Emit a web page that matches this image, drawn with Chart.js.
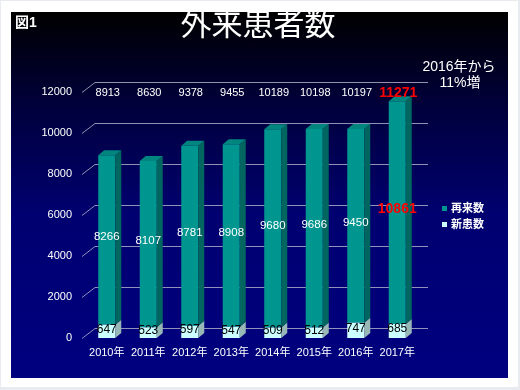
<!DOCTYPE html>
<html>
<head>
<meta charset="utf-8">
<script src="https://cdn.jsdelivr.net/npm/chart.js@4"></script>
<style>
body { margin: 0; background: #e8ecf0; }
#waku { position: absolute; left: 1px; top: 1px; width: 517px; height: 386px; background: #fff; }
#grafico { position: absolute; left: 11px; top: 12px;
  background: linear-gradient(#000000 0%, #00003a 25%, #000070 55%, #000080 100%); }
</style>
</head>
<body>
<div id="waku"></div>
<canvas id="grafico" width="497" height="366"></canvas>
<script>
// datos del grafico
const anios = ['2010年', '2011年', '2012年', '2013年', '2014年', '2015年', '2016年', '2017年'];
const shinkan = [647, 523, 597, 547, 509, 512, 747, 685];       // 新患数
const sairai = [8266, 8107, 8781, 8908, 9680, 9686, 9450, 10861]; // 再来数
const goukei = [8913, 8630, 9378, 9455, 10189, 10198, 10197, 11271];
const yTicks = [0, 2000, 4000, 6000, 8000, 10000, 12000];

const FUENTE = "'Liberation Sans', 'Noto Sans CJK JP', sans-serif";
const colorTeal = '#009690';
const colorCian = '#ccffff';

// rejilla 3D (pared del fondo) antes de las barras
const pared = {
  id: 'pared',
  beforeDatasetsDraw(chart) {
    const { ctx, chartArea: a, scales: { y } } = chart;
    ctx.save();
    ctx.strokeStyle = 'rgba(170,170,200,0.85)';
    ctx.lineWidth = 1;
    yTicks.forEach(v => {
      const py = Math.round(y.getPixelForValue(v)) + 0.5;
      ctx.beginPath();
      ctx.moveTo(a.left - 4, py);
      ctx.lineTo(a.left + 9, py - 10);
      ctx.lineTo(a.right + 10, py - 10);
      ctx.stroke();
    });
    ctx.restore();
  }
};

// caras laterales y superiores + etiquetas
const barras3d = {
  id: 'barras3d',
  afterDatasetsDraw(chart) {
    const ctx = chart.ctx;
    const lados = ['#98b8b8', '#00665f'];
    ctx.save();
    chart.data.datasets.forEach((ds, i) => {
      chart.getDatasetMeta(i).data.forEach(bar => {
        const { x, y, base, width } = bar.getProps(['x', 'y', 'base', 'width'], true);
        const der = x + width / 2, izq = x - width / 2;
        ctx.fillStyle = lados[i];
        ctx.beginPath();
        ctx.moveTo(der, y); ctx.lineTo(der + 6, y - 5);
        ctx.lineTo(der + 6, base - 5); ctx.lineTo(der, base);
        ctx.closePath(); ctx.fill();
        if (i === 1) {
          ctx.fillStyle = '#00857f';
          ctx.beginPath();
          ctx.moveTo(izq, y); ctx.lineTo(izq + 6, y - 5);
          ctx.lineTo(der + 6, y - 5); ctx.lineTo(der, y);
          ctx.closePath(); ctx.fill();
        }
      });
    });
    // etiquetas
    ctx.textAlign = 'center';
    ctx.textBaseline = 'middle';
    chart.data.datasets.forEach((ds, i) => {
      chart.getDatasetMeta(i).data.forEach((bar, j) => {
        const { x, y, base } = bar.getProps(['x', 'y', 'base'], true);
        const cy = (y + base) / 2 - 3;
        if (i === 0) {
          ctx.fillStyle = '#000';
          ctx.font = '12px ' + FUENTE;
          ctx.fillText(ds.data[j], x, cy + 1);
        } else if (j === 7) {
          ctx.fillStyle = '#ff0000';
          ctx.font = 'bold 14px ' + FUENTE;
          ctx.fillText(ds.data[j], x, cy);
        } else {
          ctx.fillStyle = '#fff';
          ctx.font = '11.5px ' + FUENTE;
          ctx.fillText(ds.data[j], x, cy);
        }
      });
    });
    // fila de totales
    const top = chart.chartArea.top;
    chart.getDatasetMeta(1).data.forEach((bar, j) => {
      if (j === 7) {
        ctx.fillStyle = '#ff0000';
        ctx.font = 'bold 14px ' + FUENTE;
      } else {
        ctx.fillStyle = '#fff';
        ctx.font = '11px ' + FUENTE;
      }
      ctx.fillText(goukei[j], bar.x + 1, top + 1);
    });
    ctx.restore();
  },
  afterDraw(chart) {
    const ctx = chart.ctx;
    ctx.save();
    ctx.fillStyle = '#fff';
    ctx.textBaseline = 'middle';
    ctx.textAlign = 'center';
    ctx.font = '31px ' + FUENTE;
    ctx.fillText('外来患者数', 247, 14);
    ctx.font = '14px ' + FUENTE;
    ctx.fillText('2016年から', 448, 55);
    ctx.fillText('11%増', 449, 71);
    ctx.textAlign = 'left';
    ctx.font = 'bold 14px ' + FUENTE;
    ctx.fillText('図1', 4, 11);
    // leyenda (orden inverso)
    ctx.font = 'bold 11px ' + FUENTE;
    [1, 0].forEach((i, k) => {
      const ds = chart.data.datasets[i];
      const py = 197 + k * 16;
      ctx.fillStyle = ds.backgroundColor;
      ctx.fillRect(431, py - 3, 5, 5);
      ctx.fillStyle = '#fff';
      ctx.fillText(ds.label, 440, py);
    });
    ctx.restore();
  }
};

new Chart(document.getElementById('grafico'), {
  type: 'bar',
  data: {
    labels: anios,
    datasets: [
      { label: '新患数', data: shinkan, backgroundColor: colorCian },
      { label: '再来数', data: sairai, backgroundColor: colorTeal }
    ]
  },
  options: {
    responsive: false,
    animation: false,
    layout: { padding: { top: 80, right: 90, left: 0, bottom: 0 } },
    datasets: { bar: { barPercentage: 0.41, categoryPercentage: 1 } },
    plugins: { legend: { display: false }, tooltip: { enabled: false } },
    scales: {
      x: {
        stacked: true,
        grid: { display: false, drawTicks: false },
        border: { display: false },
        ticks: { color: '#fff', font: { size: 11, family: FUENTE }, padding: 8, maxRotation: 0 },
        afterFit(s) { s.height = 40; }
      },
      y: {
        stacked: true,
        min: 0,
        max: 12000,
        grid: { display: false, drawTicks: false },
        border: { display: false },
        ticks: {
          stepSize: 2000,
          color: '#fff',
          font: { size: 11, family: FUENTE },
          padding: 14,
          callback: v => String(v)
        },
        afterFit(s) { s.width = 75; }
      }
    }
  },
  plugins: [pared, barras3d]
});
</script>
</body>
</html>
